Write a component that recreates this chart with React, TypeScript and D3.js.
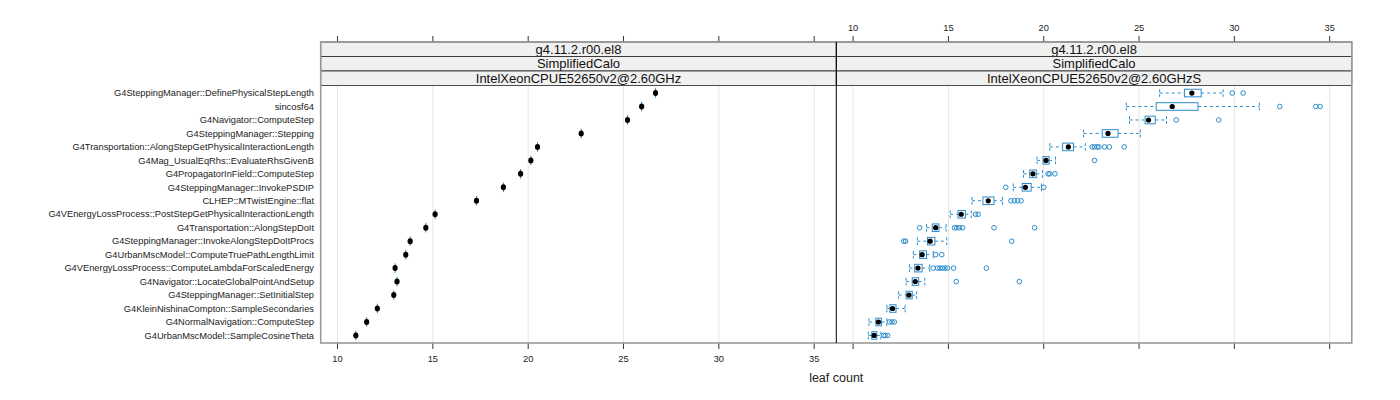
import React from "react";
import * as d3 from "d3";

// rows from top to bottom
const categories = [
  "G4SteppingManager::DefinePhysicalStepLength",
  "sincosf64",
  "G4Navigator::ComputeStep",
  "G4SteppingManager::Stepping",
  "G4Transportation::AlongStepGetPhysicalInteractionLength",
  "G4Mag_UsualEqRhs::EvaluateRhsGivenB",
  "G4PropagatorInField::ComputeStep",
  "G4SteppingManager::InvokePSDIP",
  "CLHEP::MTwistEngine::flat",
  "G4VEnergyLossProcess::PostStepGetPhysicalInteractionLength",
  "G4Transportation::AlongStepDoIt",
  "G4SteppingManager::InvokeAlongStepDoItProcs",
  "G4UrbanMscModel::ComputeTruePathLengthLimit",
  "G4VEnergyLossProcess::ComputeLambdaForScaledEnergy",
  "G4Navigator::LocateGlobalPointAndSetup",
  "G4SteppingManager::SetInitialStep",
  "G4KleinNishinaCompton::SampleSecondaries",
  "G4NormalNavigation::ComputeStep",
  "G4UrbanMscModel::SampleCosineTheta",
];

const stripLines = ["g4.11.2.r00.el8", "SimplifiedCalo"];
const leftCpu = "IntelXeonCPUE52650v2@2.60GHz";
const rightCpu = "IntelXeonCPUE52650v2@2.60GHzS";

// left panel: one run per function
const singleRun = [
  26.68, 25.95, 25.21, 22.78, 20.49, 20.14, 19.6, 18.7, 17.29, 15.12,
  14.63, 13.81, 13.58, 13.02, 13.12, 12.95, 12.09, 11.53, 10.96,
];

// right panel: box statistics
const lowWhisker = [
  26.08, 24.33, 24.5, 22.09, 20.32, 19.65, 18.94, 18.4, 16.24, 15.09,
  13.85, 13.37, 13.16, 12.96, 12.78, 12.39, 11.77, 10.83, 10.8,
];
const q1 = [
  27.38, 25.9, 25.32, 23.07, 20.99, 19.96, 19.26, 18.87, 16.81, 15.5,
  14.15, 13.9, 13.49, 13.23, 13.1, 12.78, 11.93, 11.19, 10.98,
];
const medians = [
  27.77, 26.74, 25.5, 23.37, 21.29, 20.12, 19.43, 19.04, 17.09, 15.67,
  14.33, 14.04, 13.62, 13.4, 13.26, 12.93, 12.07, 11.33, 11.1,
];
const q3 = [
  28.26, 28.09, 25.85, 23.9, 21.56, 20.28, 19.61, 19.34, 17.39, 15.89,
  14.5, 14.29, 13.85, 13.62, 13.44, 13.1, 12.25, 11.49, 11.24,
];
const highWhisker = [
  29.41, 31.31, 26.44, 25.07, 22.18, 20.62, 19.93, 19.88, 17.84, 16.2,
  14.88, 14.91, 14.2, 14.02, 13.76, 13.33, 12.73, 11.77, 11.45,
];
const outliers = [
  [29.89, 30.46],
  [32.38, 34.27, 34.5],
  [26.95, 29.18],
  [],
  [22.54, 22.66, 22.8, 22.89, 23.19, 23.44, 24.22],
  [22.66],
  [20.23, 20.32, 20.59],
  [18.01, 20.0],
  [18.28, 18.46, 18.63, 18.81],
  [16.42, 16.56],
  [13.49, 15.32, 15.44, 15.57, 15.74, 17.39, 19.52],
  [12.66, 12.75, 18.32],
  [14.33, 14.65],
  [14.2, 14.43, 14.56, 14.68, 14.82, 14.96, 15.27, 16.99],
  [15.41, 18.72],
  [],
  [],
  [11.9, 12.04, 12.16],
  [11.6, 11.68, 11.81],
];

const xTicks = [10, 15, 20, 25, 30, 35];

const W = 1400;
const H = 400;
const font = "'Liberation Sans', Arial, Helvetica, sans-serif";
const blue = "#2b8ccc";
const stripTop = 42;
const stripH = 14.5;
const plotTop = stripTop + stripH * 3;
const plotBottom = 343;
const panelEdges = [320.7, 836.3, 1351.8];
const xDomain: [number, number] = [9.118, 36.16];

export default function App() {
  const y = d3
    .scalePoint<string>()
    .domain(categories)
    .range([plotTop, plotBottom])
    .padding(0.56);
  const xLeft = d3.scaleLinear().domain(xDomain).range([panelEdges[0], panelEdges[1]]);
  const xRight = d3.scaleLinear().domain(xDomain).range([panelEdges[1], panelEdges[2]]);
  const bh = 3.8;

  const panel = (
    x: d3.ScaleLinear<number, number>,
    cpu: string,
    topLabels: boolean,
    key: string
  ) => {
    const [x0, x1] = x.range();
    return (
      <g key={key}>
        {xTicks.map((t) => (
          <line key={"g" + t} x1={x(t)} x2={x(t)} y1={plotTop} y2={plotBottom} stroke="#e6e6e6" strokeWidth={1} />
        ))}
        {/* strips */}
        {[...stripLines, cpu].map((s, i) => (
          <g key={"s" + i}>
            <rect x={x0} y={stripTop + i * stripH} width={x1 - x0} height={stripH} fill="#f0f0f0" stroke="#222" strokeWidth={0.8} />
            <text x={(x0 + x1) / 2} y={stripTop + i * stripH + stripH / 2 + 4.5} textAnchor="middle" fontSize={13} fontFamily={font} fill="#111">
              {s}
            </text>
          </g>
        ))}
        {/* ticks */}
        {xTicks.map((t) => (
          <g key={"t" + t}>
            <line x1={x(t)} x2={x(t)} y1={plotBottom} y2={plotBottom + 6} stroke="#333" />
            <line x1={x(t)} x2={x(t)} y1={stripTop - 6} y2={stripTop} stroke="#333" />
            {topLabels ? (
              <text x={x(t)} y={31} textAnchor="middle" fontSize={9.3} fontFamily={font} fill="#222">
                {t}
              </text>
            ) : (
              <text x={x(t)} y={362} textAnchor="middle" fontSize={9.3} fontFamily={font} fill="#222">
                {t}
              </text>
            )}
          </g>
        ))}
      </g>
    );
  };

  return (
    <svg width={W} height={H} style={{ position: "absolute", left: 0, top: 0, background: "#fff" }}>
      {panel(xLeft, leftCpu, false, "left")}
      {panel(xRight, rightCpu, true, "right")}

      {/* category labels */}
      {categories.map((c) => (
        <text key={c} x={314} y={(y(c) as number) + 3.2} textAnchor="end" fontSize={9.3} fontFamily={font} fill="#222">
          {c}
        </text>
      ))}

      {/* left panel: single runs */}
      {categories.map((c, i) => {
        const cy = y(c) as number;
        const cx = xLeft(singleRun[i]);
        return (
          <g key={"l" + i}>
            <line x1={cx} x2={cx} y1={cy - bh - 1} y2={cy + bh + 1} stroke={blue} strokeWidth={1} />
            <ellipse cx={cx} cy={cy} rx={2.6} ry={3} fill="#000" />
          </g>
        );
      })}

      {/* right panel: boxplots */}
      {categories.map((c, i) => {
        const cy = y(c) as number;
        const lo = xRight(lowWhisker[i]);
        const a = xRight(q1[i]);
        const b = xRight(q3[i]);
        const hi = xRight(highWhisker[i]);
        return (
          <g key={"r" + i}>
            <line x1={lo} x2={a} y1={cy} y2={cy} stroke={blue} strokeDasharray="3,3" />
            <line x1={b} x2={hi} y1={cy} y2={cy} stroke={blue} strokeDasharray="3,3" />
            <line x1={lo} x2={lo} y1={cy - bh} y2={cy + bh} stroke={blue} strokeDasharray="3,2" />
            <line x1={hi} x2={hi} y1={cy - bh} y2={cy + bh} stroke={blue} strokeDasharray="3,2" />
            <rect x={a} y={cy - bh} width={b - a} height={bh * 2} fill="none" stroke={blue} strokeWidth={1} />
            {outliers[i].map((o, j) => (
              <circle key={j} cx={xRight(o)} cy={cy} r={2.3} fill="none" stroke={blue} strokeWidth={1} />
            ))}
            <circle cx={xRight(medians[i])} cy={cy} r={2.6} fill="#000" />
          </g>
        );
      })}

      {/* panel borders */}
      <rect x={panelEdges[0]} y={stripTop} width={panelEdges[2] - panelEdges[0]} height={plotBottom - stripTop} fill="none" stroke="#999" strokeWidth={1.6} />
      <line x1={panelEdges[1]} x2={panelEdges[1]} y1={stripTop} y2={plotBottom} stroke="#000" strokeWidth={1} />

      <text x={(panelEdges[0] + panelEdges[2]) / 2} y={382} textAnchor="middle" fontSize={12.5} fontFamily={font} fill="#222">
        leaf count
      </text>
    </svg>
  );
}
